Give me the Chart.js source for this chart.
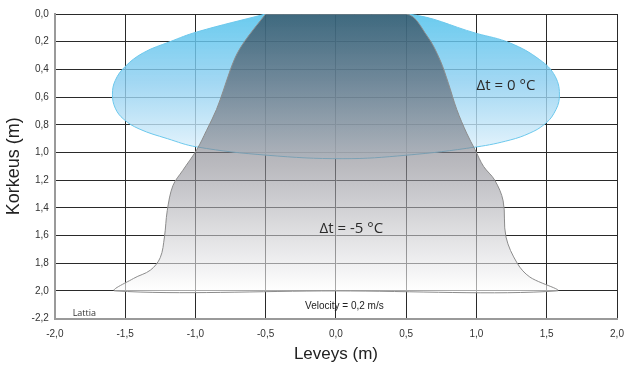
<!DOCTYPE html>
<html>
<head>
<meta charset="utf-8">
<script src="https://cdn.jsdelivr.net/npm/chart.js@4/dist/chart.umd.min.js"></script>
<style>
  body { margin: 0; background: #fff; }
  #wrap { width: 625px; height: 365px; }
</style>
</head>
<body>
<div id="wrap"><canvas id="chart" width="625" height="365"></canvas></div>
<script>
// Tick labels as printed on the original
const xTickLabels = ["-2,0", "-1,5", "-1,0", "-0,5", "0,0", "0,5", "1,0", "1,5", "2,0"];
const yTickLabels = ["0,0", "0,2", "0,4", "0,6", "0,8", "1,0", "1,2", "1,4", "1,6", "1,8", "2,0", "-2,2"];

// Isothermal plume, dt = 0 C (outline, x = width m, y = height from ceiling m)
const warmX = [-0.5, -0.99, -1.18, -1.37, -1.5, -1.57, -1.59, -1.57, -1.51, -1.4, -1.2, -0.99, -0.49, 0.05, 0.5, 1.0, 1.24, 1.38, 1.48, 1.55, 1.59, 1.56, 1.45, 1.24, 1.0, 0.5, -0.5];
const warmY = [0.0, 0.13, 0.2, 0.28, 0.38, 0.48, 0.58, 0.68, 0.76, 0.83, 0.9, 0.96, 1.02, 1.045, 1.02, 0.96, 0.91, 0.86, 0.8, 0.72, 0.6, 0.45, 0.33, 0.21, 0.14, 0.0, 0.0];

// Cold plume, dt = -5 C
const coldX = [-0.5, -0.63, -0.7, -0.75, -0.8, -0.85, -0.92, -0.99, -1.09, -1.16, -1.2, -1.22, -1.25, -1.32, -1.44, -1.57, 0.0, 1.57, 1.38, 1.29, 1.21, 1.19, 1.13, 1.05, 0.99, 0.93, 0.86, 0.8, 0.74, 0.65, 0.5, -0.5];
const coldY = [0.0, 0.17, 0.28, 0.4, 0.55, 0.69, 0.84, 0.98, 1.13, 1.24, 1.42, 1.61, 1.76, 1.85, 1.91, 2.0, 2.0, 2.0, 1.9, 1.8, 1.61, 1.35, 1.2, 1.1, 0.98, 0.86, 0.69, 0.5, 0.33, 0.16, 0.0, 0.0];

const toPoints = (xs, ys) => xs.map((x, i) => ({ x: x, y: ys[i] }));

function vGradient(ctx, stops) {
  const chart = ctx.chart;
  if (!chart.chartArea) return null;
  const y = chart.scales.y;
  const y0 = y.getPixelForValue(stops[0][0]);
  const y1 = y.getPixelForValue(stops[stops.length - 1][0]);
  const g = chart.ctx.createLinearGradient(0, y0, 0, y1);
  const span = stops[stops.length - 1][0] - stops[0][0];
  stops.forEach(s => g.addColorStop((s[0] - stops[0][0]) / span, s[1]));
  return g;
}

const labelsPlugin = {
  id: "labels",
  afterDatasetsDraw(chart) {
    const c = chart.ctx, xs = chart.scales.x, ys = chart.scales.y;
    c.save();
    c.textAlign = "center";
    c.textBaseline = "middle";
    c.fillStyle = "#2b2b2b";
    c.font = "15px 'Open Sans'";
    c.fillText("Δt = 0 °C", xs.getPixelForValue(1.21), ys.getPixelForValue(0.52));
    c.fillText("Δt = -5 °C", xs.getPixelForValue(0.11), ys.getPixelForValue(1.55));
    c.font = "10px 'Liberation Sans'";
    c.fillStyle = "#222";
    c.fillText("Velocity = 0,2 m/s", xs.getPixelForValue(0.06), ys.getPixelForValue(2.11));
    c.font = "9px 'Open Sans'";
    c.fillStyle = "#333";
    c.fillText("Lattia", xs.getPixelForValue(-1.79), ys.getPixelForValue(2.165));
    c.restore();
  }
};

const ctx = document.getElementById("chart").getContext("2d");
const chart = new Chart(ctx, {
  type: "line",
  data: {
    datasets: [{
      label: "Δt = -5 °C",
      data: toPoints(coldX, coldY),
      borderColor: "#8c8c8c",
      borderWidth: 1,
      pointRadius: 0,
      tension: 0.35,
      fill: "shape",
      backgroundColor: ctx => vGradient(ctx, [
        [0.0, "rgba(35,45,58,0.62)"],
        [1.1, "rgba(140,140,148,0.6)"],
        [2.0, "rgba(255,255,255,0.6)"]
      ])
    }, {
      label: "Δt = 0 °C",
      data: toPoints(warmX, warmY),
      borderColor: "#6cc8ec",
      borderWidth: 1,
      pointRadius: 0,
      tension: 0.4,
      fill: "shape",
      backgroundColor: ctx => vGradient(ctx, [
        [0.0, "rgba(80,194,236,0.85)"],
        [0.5, "rgba(140,206,240,0.8)"],
        [1.05, "rgba(232,245,253,0.8)"]
      ])
    }]
  },
  options: {
    responsive: false,
    animation: false,
    layout: { padding: { top: 14, right: 0, left: 3, bottom: 0 } },
    plugins: { legend: { display: false }, tooltip: { enabled: false } },
    scales: {
      x: {
        type: "linear",
        min: -2, max: 2,
        // keep only half a label of room on the right, like the original
        afterFit: s => { s.paddingRight = 8; },
        ticks: {
          stepSize: 0.5,
          padding: 10,
          color: "#333",
          font: { family: "'Liberation Sans'", size: 10 },
          callback: v => xTickLabels[Math.round((v + 2) / 0.5)]
        },
        grid: { color: "#2a2a2a", lineWidth: 1, drawTicks: false },
        border: { color: "#9a9a9a", width: 2 },
        title: {
          display: true, text: "Leveys (m)", color: "#222",
          font: { family: "'Liberation Sans'", size: 17 },
          padding: { top: -6, bottom: 0 }
        }
      },
      y: {
        type: "linear",
        reverse: true,
        min: 0, max: 2.2,
        ticks: {
          stepSize: 0.2,
          padding: 6,
          color: "#333",
          font: { family: "'Liberation Sans'", size: 10 },
          callback: v => yTickLabels[Math.round(v / 0.2)]
        },
        grid: { color: "#2a2a2a", lineWidth: 1, drawTicks: false },
        border: { color: "#9a9a9a", width: 2 },
        title: {
          display: true, text: "Korkeus (m)", color: "#222",
          font: { family: "'Liberation Sans'", size: 18 },
          padding: { top: 0, bottom: 1 }
        }
      }
    }
  },
  plugins: [labelsPlugin]
});
</script>
</body>
</html>
